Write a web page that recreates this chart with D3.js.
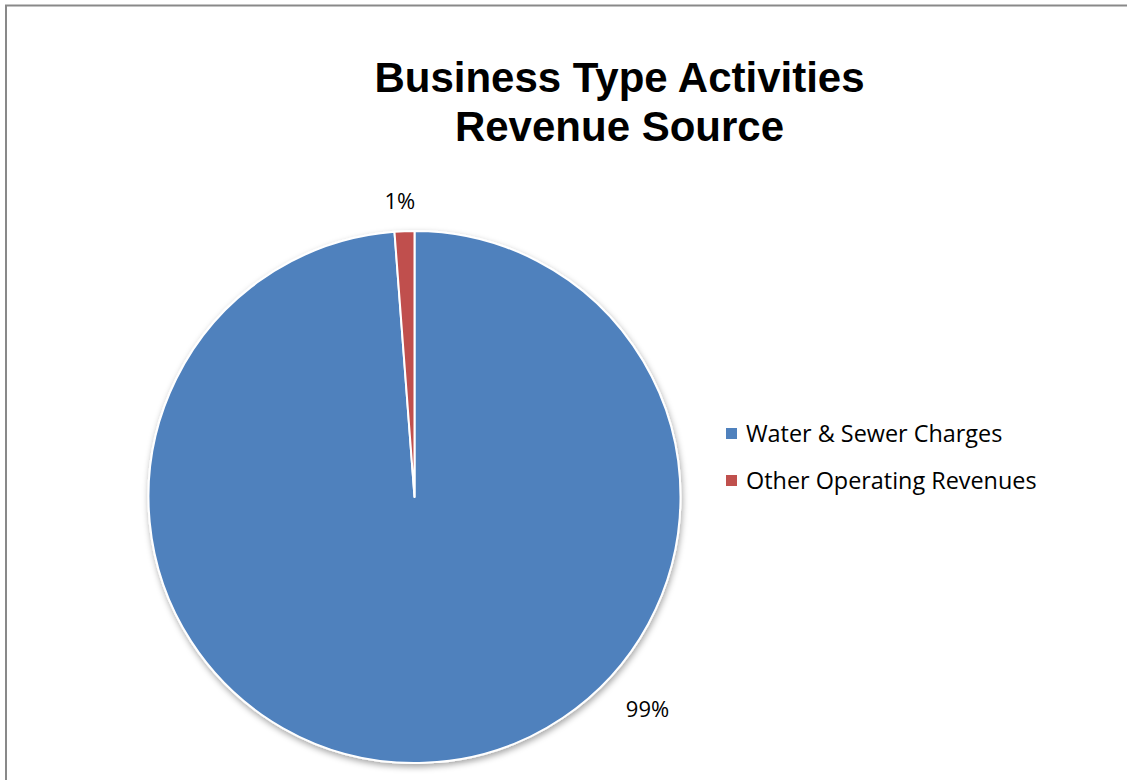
<!DOCTYPE html>
<html>
<head>
<meta charset="utf-8">
<script src="https://cdn.jsdelivr.net/npm/d3@7"></script>
<style>
  body { margin: 0; background: #fff; }
  svg { display: block; }
</style>
</head>
<body>
<div id="chart"></div>
<script>
// chart data
var categories = ["Water & Sewer Charges", "Other Operating Revenues"];
var values = [98.8, 1.2];
var valueLabels = ["99%", "1%"];
var colors = ["#4F81BD", "#C0504D"];
var titleLines = ["Business Type Activities", "Revenue Source"];

var width = 1135;
var height = 780;
var cx = 414.5;
var cy = 497;
var radius = 266;

var svg = d3.select("#chart")
    .append("svg")
    .attr("width", width)
    .attr("height", height);

// soft shadow under the pie
var defs = svg.append("defs");
var filter = defs.append("filter")
    .attr("id", "shadow")
    .attr("x", "-10%").attr("y", "-10%")
    .attr("width", "120%").attr("height", "120%");
filter.append("feDropShadow")
    .attr("dx", 1)
    .attr("dy", 3)
    .attr("stdDeviation", 3)
    .attr("flood-color", "#000")
    .attr("flood-opacity", 0.35);

// chart area border (only top and left edges are in frame)
svg.append("path")
    .attr("d", "M6,780V5.5H1127")
    .attr("fill", "none")
    .attr("stroke", "#898989")
    .attr("stroke-width", 2);

// title
svg.append("text")
    .attr("x", 619.5)
    .attr("y", 92)
    .attr("text-anchor", "middle")
    .style("font-family", "'Liberation Sans', Arial, sans-serif")
    .style("font-weight", "bold")
    .style("font-size", "42px")
    .selectAll("tspan")
    .data(titleLines)
    .enter()
    .append("tspan")
    .attr("x", 619.5)
    .attr("dy", function (d, i) { return i === 0 ? 0 : 49; })
    .text(function (d) { return d; });

var data = categories.map(function (c, i) {
    return { name: c, value: values[i], label: valueLabels[i], color: colors[i] };
});

var pie = d3.pie()
    .sort(null)
    .value(function (d) { return d.value; });

var arc = d3.arc()
    .innerRadius(0)
    .outerRadius(radius);

var g = svg.append("g")
    .attr("transform", "translate(" + cx + "," + cy + ")");

g.append("g")
    .attr("filter", "url(#shadow)")
    .selectAll("path")
    .data(pie(data))
    .enter()
    .append("path")
    .attr("d", arc)
    .attr("fill", function (d) { return d.data.color; })
    .attr("stroke", "#fff")
    .attr("stroke-width", 2)
    .attr("stroke-linejoin", "round");

// data labels outside the pie ("best fit": big slice gets its label at lower right)
function labelPos(d) {
    var a, r;
    if (d.endAngle - d.startAngle > Math.PI) {
        a = Math.PI * 0.735;
        r = radius + 49;
    } else {
        a = (d.startAngle + d.endAngle) / 2 - 0.012;
        r = radius + 30;
    }
    return [Math.sin(a) * r, -Math.cos(a) * r];
}

g.selectAll(".dlabel")
    .data(pie(data))
    .enter()
    .append("text")
    .attr("class", "dlabel")
    .attr("transform", function (d) { return "translate(" + labelPos(d) + ")"; })
    .attr("text-anchor", "middle")
    .attr("dy", "0.35em")
    .style("font-family", "'Open Sans', sans-serif")
    .style("font-size", "22px")
    .attr("fill", "#000")
    .text(function (d) { return d.data.label; });

// legend
var legend = svg.append("g")
    .attr("transform", "translate(726,428)");

var items = legend.selectAll("g")
    .data(data)
    .enter()
    .append("g")
    .attr("transform", function (d, i) { return "translate(0," + (i * 47) + ")"; });

items.append("rect")
    .attr("width", 11)
    .attr("height", 11)
    .attr("fill", function (d) { return d.color; });

items.append("text")
    .attr("x", 20)
    .attr("y", 13.5)
    .style("font-family", "'Open Sans', sans-serif")
    .style("font-size", "23.4px")
    .attr("fill", "#000")
    .text(function (d) { return d.name; });
</script>
</body>
</html>
